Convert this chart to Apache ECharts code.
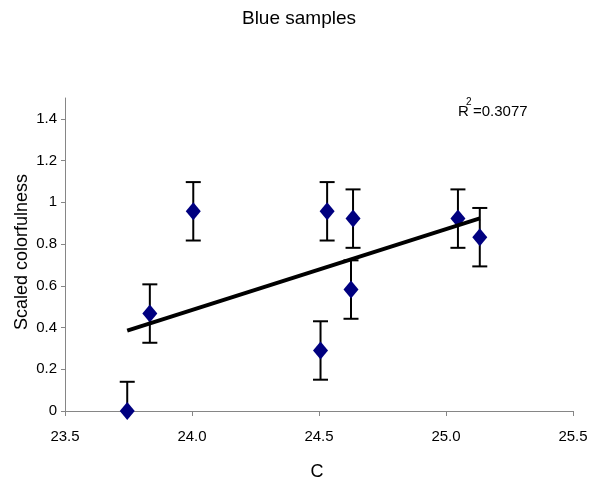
<!DOCTYPE html>
<html>
<head>
<meta charset="utf-8">
<title>Blue samples</title>
<script src="https://cdn.jsdelivr.net/npm/echarts@6/dist/echarts.min.js"></script>
<style>
  html, body { margin: 0; padding: 0; background: #fff; }
  #chart { width: 601px; height: 481px; }
</style>
</head>
<body>
<div id="chart"></div>
<script>
// Chroma C of each blue sample and its scaled colorfulness
const cValues = [23.745, 23.834, 24.005, 24.506, 24.532, 24.634, 24.626, 25.047, 25.133];
const colorfulness = [0.0, 0.467, 0.957, 0.290, 0.957, 0.922, 0.582, 0.922, 0.833];
const errorSizes = [0.14, 0.14, 0.14, 0.14, 0.14, 0.14, 0.14, 0.14, 0.14];
const yTicks = [0, 0.2, 0.4, 0.6, 0.8, 1, 1.2, 1.4];
const xRange = [23.5, 25.5];
const rSquaredText = '0.3077';

const FONT = '"Liberation Sans", Arial, sans-serif';

// Least-squares linear trend through the samples
function linearFit(xs, ys) {
  const n = xs.length;
  const mx = xs.reduce((a, b) => a + b, 0) / n;
  const my = ys.reduce((a, b) => a + b, 0) / n;
  let sxy = 0, sxx = 0;
  for (let i = 0; i < n; i++) {
    sxy += (xs[i] - mx) * (ys[i] - my);
    sxx += (xs[i] - mx) * (xs[i] - mx);
  }
  const slope = sxy / sxx;
  return { slope, intercept: my - slope * mx };
}
const fit = linearFit(cValues, colorfulness);
const xMin = Math.min(...cValues), xMax = Math.max(...cValues);
const trendData = [
  [xMin, fit.intercept + fit.slope * xMin],
  [xMax, fit.intercept + fit.slope * xMax]
];

const points = cValues.map((c, i) => [c, colorfulness[i]]);
const errorData = cValues.map((c, i) => [c, colorfulness[i], errorSizes[i]]);

const chart = echarts.init(document.getElementById('chart'));

chart.setOption({
  animation: false,
  backgroundColor: '#ffffff',
  grid: { left: 65, right: 28, top: 98, bottom: 70 },
  xAxis: {
    type: 'value',
    min: xRange[0],
    max: xRange[1],
    interval: 0.5,
    axisLine: { show: true, lineStyle: { color: '#868686', width: 1 } },
    axisTick: { show: true, inside: false, length: 5, lineStyle: { color: '#868686' } },
    splitLine: { show: false },
    axisLabel: {
      margin: 18,
      fontSize: 15,
      fontFamily: FONT,
      color: '#000',
      formatter: v => v.toFixed(1)
    }
  },
  yAxis: {
    type: 'value',
    min: 0,
    max: 1.5,
    axisLine: { show: true, lineStyle: { color: '#868686', width: 1 } },
    axisTick: {
      show: true, inside: false, length: 4,
      customValues: yTicks,
      lineStyle: { color: '#868686' }
    },
    splitLine: { show: false },
    axisLabel: {
      margin: 8,
      fontSize: 15,
      fontFamily: FONT,
      color: '#000',
      customValues: yTicks,
      formatter: v => String(v)
    }
  },
  series: [
    {
      name: 'error',
      type: 'custom',
      z: 2,
      data: errorData,
      renderItem: function (params, api) {
        const x = api.value(0), y = api.value(1), e = api.value(2);
        const top = api.coord([x, y + e]);
        const bot = api.coord([x, y - e]);
        const limit = params.coordSys.y + params.coordSys.height;
        const clipped = bot[1] > limit;
        const yb = Math.min(bot[1], limit);
        const half = 7.5;
        const style = { stroke: '#000', lineWidth: 2 };
        const children = [
          { type: 'line', shape: { x1: top[0], y1: top[1], x2: top[0], y2: yb }, style },
          { type: 'line', shape: { x1: top[0] - half, y1: top[1], x2: top[0] + half, y2: top[1] }, style }
        ];
        if (!clipped) {
          children.push({ type: 'line', shape: { x1: bot[0] - half, y1: bot[1], x2: bot[0] + half, y2: bot[1] }, style });
        }
        return { type: 'group', children };
      }
    },
    {
      name: 'samples',
      type: 'scatter',
      z: 3,
      symbol: 'diamond',
      symbolSize: [15, 18],
      itemStyle: { color: '#000080', opacity: 1, borderWidth: 0 },
      data: points
    },
    {
      name: 'trend',
      type: 'line',
      z: 4,
      showSymbol: false,
      symbol: 'none',
      lineStyle: { color: '#000', width: 4 },
      data: trendData
    }
  ],
  graphic: [
    {
      type: 'text',
      x: 299, y: 19,
      style: {
        text: 'Blue samples',
        font: '19px ' + FONT,
        fill: '#000',
        align: 'center',
        verticalAlign: 'middle'
      }
    },
    {
      type: 'text',
      x: 22, y: 252,
      rotation: Math.PI / 2,
      style: {
        text: 'Scaled colorfulness',
        font: '18px ' + FONT,
        fill: '#000',
        align: 'center',
        verticalAlign: 'middle'
      }
    },
    {
      type: 'text',
      x: 317, y: 472,
      style: {
        text: 'C',
        font: '18px ' + FONT,
        fill: '#000',
        align: 'center',
        verticalAlign: 'middle'
      }
    },
    {
      type: 'group',
      x: 458, y: 112,
      children: [
        { type: 'text', x: 0, y: 0, style: { text: 'R', font: '15px ' + FONT, fill: '#000', align: 'left', verticalAlign: 'middle' } },
        { type: 'text', x: 8, y: -10, style: { text: '2', font: '10px ' + FONT, fill: '#000', align: 'left', verticalAlign: 'middle' } },
        { type: 'text', x: 15, y: 0, style: { text: '=' + rSquaredText, font: '15px ' + FONT, fill: '#000', align: 'left', verticalAlign: 'middle' } }
      ]
    }
  ]
});
</script>
</body>
</html>
